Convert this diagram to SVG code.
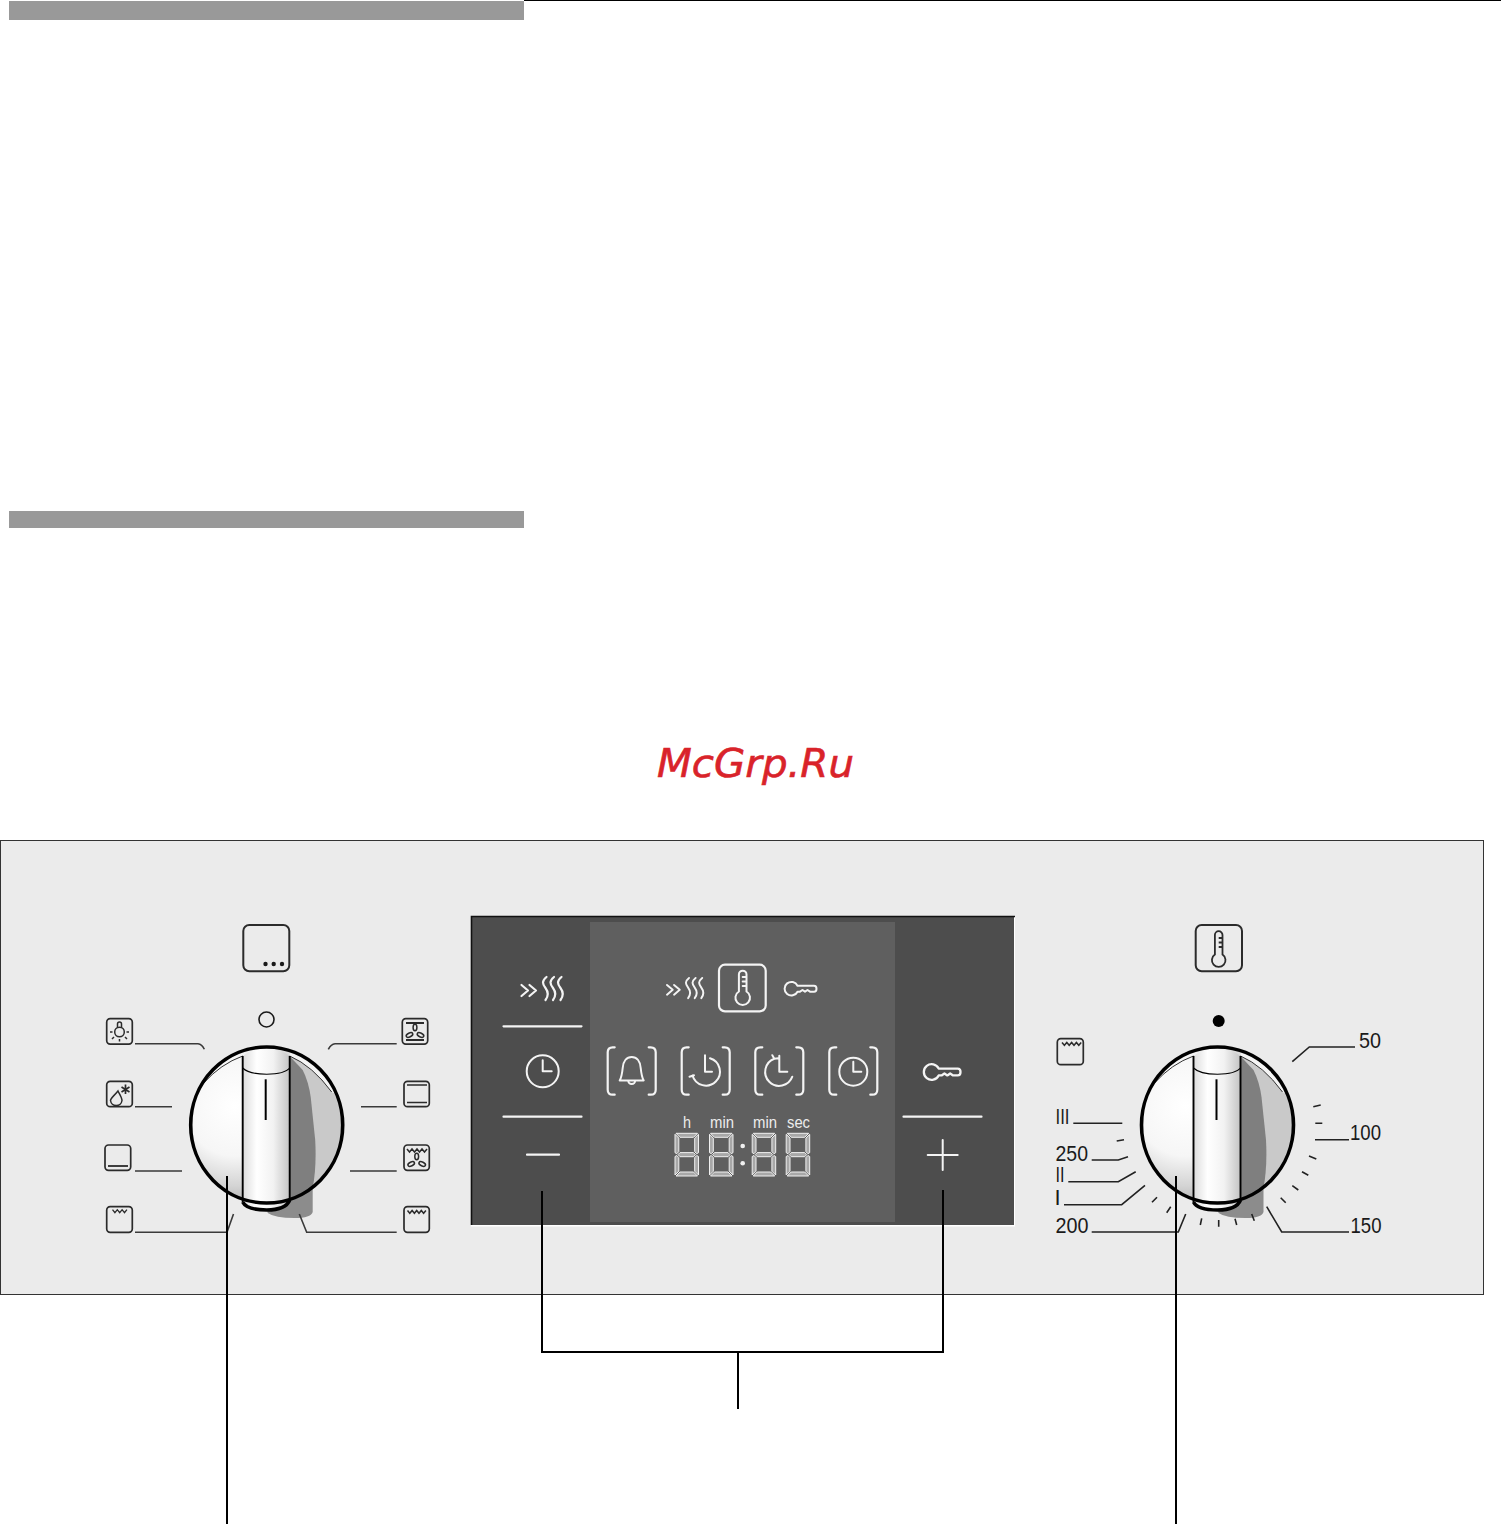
<svg xmlns="http://www.w3.org/2000/svg" width="1501" height="1525" viewBox="0 0 1501 1525">
<style>
.box{fill:#ebebeb;stroke:#2b2b2b;stroke-width:1.7}
.th{fill:none;stroke:#2b2b2b;stroke-width:1.5}
.w{fill:none;stroke:#f4f4f4;stroke-width:2.200;stroke-linecap:round;stroke-linejoin:round}
.wt{fill:none;stroke:#f4f4f4;stroke-width:2;stroke-linecap:round;stroke-linejoin:round}
.lead{fill:none;stroke:#3a3a3a;stroke-width:1.6}
.tick{fill:none;stroke:#222;stroke-width:1.6}
.call{fill:none;stroke:#000;stroke-width:2}
.num{font-family:"Liberation Sans",Arial,sans-serif;font-size:22px;fill:#1a1a1a}
.unit{font-family:"Liberation Sans",Arial,sans-serif;font-size:16px;fill:#ececec}
.seg{fill:#a8a8a8;stroke:#f0f0f0;stroke-width:1;stroke-linejoin:miter}
</style>
<defs>
<radialGradient id="face" gradientUnits="userSpaceOnUse" cx="-32" cy="-22" r="100">
<stop offset="0" stop-color="#ffffff"/><stop offset=".5" stop-color="#f6f6f6"/><stop offset=".8" stop-color="#d4d4d4"/><stop offset="1" stop-color="#b0b0b0"/>
</radialGradient>
<linearGradient id="grip" x1="0" x2="1" y1="0" y2="0">
<stop offset="0" stop-color="#dcdcdc"/><stop offset=".3" stop-color="#ffffff"/><stop offset=".65" stop-color="#f2f2f2"/><stop offset="1" stop-color="#c4c4c4"/>
</linearGradient>
<clipPath id="rim"><ellipse cx="0" cy="-3" rx="76" ry="78"/></clipPath>
<symbol id="knob" overflow="visible">
<path d="M0 78 L46 55 V84 Q44 90 28 90 Q8 90 1 85 Z" fill="#8c8c8c"/>
<ellipse cx="0" cy="-3" rx="76" ry="78" fill="url(#face)"/>
<g clip-path="url(#rim)">
<path d="M23 -85 H80 V85 H23 Z" fill="#f4f4f4"/>
<path d="M23 -72 Q46 -62 65 -36 L80 -28 V85 H23 Z" fill="#c9c9c9"/>
<path d="M23 -71.7 L36 -58 Q42 -46 44 -31 L48.500 12 Q50 38 46 60 L40 85 H23 Z" fill="#7f7f7f"/>
</g>
<path d="M-24 -72 Q-46 -64 -63 -45" fill="none" stroke="#333" stroke-width="1"/>
<path d="M23 -72 Q46 -62 65 -36" fill="none" stroke="#333" stroke-width="1"/>
<path d="M-24 -72 V74 Q-20 82 0 82 Q19 82 23 72 V-72 Q0 -90 -24 -72 Z" fill="url(#grip)"/>
<ellipse cx="0" cy="-3" rx="76" ry="78" fill="none" stroke="#000" stroke-width="3.600"/>
<path d="M-24 -72 V74 M23 72 V-72" fill="none" stroke="#000" stroke-width="1.900"/>
<path d="M-24 74 Q-20 82 0 82 Q19 82 23 72" fill="none" stroke="#000" stroke-width="3.600"/>
<path d="M-24 -60 Q-18 -54 0 -53.700 Q18 -54 23 -60" fill="none" stroke="#000" stroke-width="1.100"/>
<path d="M-1 -48.700 V-8" fill="none" stroke="#000" stroke-width="2"/>
</symbol>
<symbol id="wave" overflow="visible"><path d="M-7 -2 l2.400 3 2.400 -3 2.400 3 2.400 -3 2.400 3 2.400 -3" fill="none" stroke="#2b2b2b" stroke-width="1.300"/></symbol>
<symbol id="fan" overflow="visible">
<ellipse cx="0" cy="-4" rx="1.900" ry="3.200" class="th"/>
<ellipse cx="-5.500" cy="3.500" rx="3.500" ry="1.900" transform="rotate(-25 -5.500 3.500)" class="th"/>
<ellipse cx="5.500" cy="3.500" rx="3.500" ry="1.900" transform="rotate(25 5.500 3.500)" class="th"/>
</symbol>
<symbol id="brk" overflow="visible"><path d="M-17 -23.700 H-19 Q-24 -23.700 -24 -18.700 V18.700 Q-24 23.700 -19 23.700 H-17 M17 -23.700 H19 Q24 -23.700 24 -18.700 V18.700 Q24 23.700 19 23.700 H17" class="w"/></symbol>
<symbol id="heat" overflow="visible"><path d="M0 0 l6.500 5.500 -6.500 5.500 M8 0 l6.500 5.500 -6.500 5.500" class="w"/><path d="M25 -8 C20 -4 21 -1 24 3 C27 7 27 11 24 15 M32.500 -8 C27.500 -4 28.500 -1 31.500 3 C34.500 7 34.500 11 31.500 15 M40 -8 C35 -4 36 -1 39 3 C42 7 42 11 39 15" class="w"/></symbol>
<symbol id="key" overflow="visible"><path d="M4.500 -3 A6.800 6.800 0 1 0 4.500 3 H7 L9.500 1.300 L12 3 L14.500 1.300 L17 3 H21 Q23.500 3 23.500 0 Q23.500 -3 21 -3 Z" class="wt"/></symbol>
<symbol id="digit" overflow="visible">
<path class="seg" d="M1 0 H22.500 L18.500 4 H5 Z"/>
<path class="seg" d="M5 19.300 H18.500 L20.500 21.300 L18.500 23.400 H5 L3 21.300 Z"/>
<path class="seg" d="M1 42.700 H22.500 L18.500 38.700 H5 Z"/>
<path class="seg" d="M0 1 L3.800 4.800 V18.300 L1.800 20.400 L0 19.400 Z"/>
<path class="seg" d="M23.500 1 L19.700 4.800 V18.300 L21.700 20.400 L23.500 19.400 Z"/>
<path class="seg" d="M0 23.200 L1.800 22.200 L3.800 24.300 V37.900 L0 41.700 Z"/>
<path class="seg" d="M23.500 23.200 L21.700 22.200 L19.700 24.300 V37.900 L23.500 41.700 Z"/>
</symbol>
</defs>

<rect width="1501" height="1525" fill="#fff"/>
<g id="header-bars">
<path d="M524 0.500 H1501" stroke="#000" stroke-width="1" fill="none"/>
<rect x="9" y="1" width="515" height="19" fill="#999"/>
<rect x="9" y="511" width="515" height="17" fill="#999"/>
</g>
<g id="watermark"><text x="657" y="777" font-family="'DejaVu Sans',sans-serif" font-style="italic" font-size="39" fill="#d9232a" stroke="#d9232a" stroke-width=".6" textLength="197" lengthAdjust="spacingAndGlyphs">McGrp.Ru</text></g>

<g id="panel"><rect x="0.500" y="840.500" width="1483" height="454" fill="#ebebeb" stroke="#333" stroke-width="1"/></g>

<g id="display">
<rect x="471" y="916" width="544" height="310.500" fill="#fff"/>
<rect x="471" y="916" width="543" height="309" fill="#4d4d4d"/>
<rect x="590" y="922" width="305" height="300" fill="#5f5f5f"/>
<path d="M471.500 1225 V916.500 H1015" fill="none" stroke="#111" stroke-width="1.600"/>
<use href="#heat" x="521.500" y="985"/>
<path d="M503.500 1026.300 H581.500 M503.500 1116.700 H581.500 M527 1154.700 H559 M903.500 1116.700 H981.500" class="w"/>
<g transform="translate(542.700 1071.300)"><circle r="16" class="wt"/><path d="M0 -11 V0 H9" class="wt"/></g>
<g transform="translate(667 985) scale(.88)"><use href="#heat"/></g>
<rect x="719" y="964.700" width="46.700" height="46.700" rx="6" class="w"/>
<g transform="translate(742.700 990)"><path d="M-3.800 1.500 V-15.500 A3.800 3.800 0 0 1 3.800 -15.500 V1.500 A7.300 7.300 0 1 1 -3.800 1.500 Z M0 -13 H3.800 M0 -8.500 H3.800 M0 -4 H3.800" class="wt"/></g>
<use href="#key" x="793" y="988.700"/>
<g transform="translate(933.500 1072) scale(1.150)"><use href="#key"/></g>
<path d="M942.700 1140 V1170 M927.700 1155 H957.700" class="wt"/>
<use href="#brk" x="631.700" y="1071"/><use href="#brk" x="705.700" y="1071"/><use href="#brk" x="779.300" y="1071"/><use href="#brk" x="853.300" y="1071"/>
<g transform="translate(631.700 1071)"><path d="M-12 9.500 C-10 6 -9.500 2 -9 -3 C-8.500 -10 -5 -14 0 -14 C5 -14 8.500 -10 9 -3 C9.500 2 10 6 12 9.500 Z M-3.500 9.500 A3.500 3.500 0 0 0 3.500 9.500" class="wt"/></g>
<g transform="translate(706 1071.700)"><path d="M4 -13.500 A14 14 0 1 1 -13.500 3.800 M-1 -16.500 V0 H6 M-16.500 5 L-12 3.500" class="wt"/></g>
<g transform="translate(779.300 1071.700)"><path d="M-5 -13 A14 14 0 1 0 13 5 M0 -16 V0 H8 M-7 -16.500 L-5 -13 L-1 -13.500" class="wt"/></g>
<g transform="translate(853.300 1071.700)"><circle r="14" class="wt"/><path d="M0 -10 V0 H8" class="wt"/></g>
<text class="unit" x="683" y="1128" textLength="8" lengthAdjust="spacingAndGlyphs">h</text>
<text class="unit" x="710" y="1128" textLength="24" lengthAdjust="spacingAndGlyphs">min</text>
<text class="unit" x="753" y="1128" textLength="24" lengthAdjust="spacingAndGlyphs">min</text>
<text class="unit" x="787" y="1128" textLength="23" lengthAdjust="spacingAndGlyphs">sec</text>
<use href="#digit" x="675" y="1133.300"/><use href="#digit" x="709.500" y="1133.300"/><use href="#digit" x="752.200" y="1133.300"/><use href="#digit" x="786.200" y="1133.300"/>
<circle cx="742.700" cy="1146" r="2.300" fill="#f0f0f0"/><circle cx="742.700" cy="1163.300" r="2.300" fill="#f0f0f0"/>
</g>

<g id="mode-knob"><use href="#knob" x="266.700" y="1128"/></g>
<g id="temp-knob"><use href="#knob" x="1217.500" y="1128"/></g>

<g id="mode-icons">
<rect x="243.300" y="925" width="46" height="46.300" rx="6" class="box" style="stroke-width:2"/>
<circle cx="265.500" cy="964" r="2.200" fill="#1a1a1a"/><circle cx="273.700" cy="964" r="2.200" fill="#1a1a1a"/><circle cx="282" cy="964" r="2.200" fill="#1a1a1a"/>
<circle cx="266.500" cy="1019.500" r="7.500" fill="none" stroke="#1a1a1a" stroke-width="1.600"/>
<g id="ic-lamp"><rect x="106.700" y="1018.700" width="25.600" height="25.400" rx="3.500" class="box"/><circle cx="119.500" cy="1032" r="4.800" class="th"/><path d="M117.500 1028 V1024 A2 2 0 0 1 121.500 1024 V1028 M110 1032 H112.500 M126.500 1032 H129 M112 1039 L114 1037 M127 1039 L125 1037 M119.500 1039 V1041.500" class="th"/></g>
<g id="ic-defrost"><rect x="106.700" y="1081.300" width="25.600" height="25.400" rx="3.500" class="box"/><path d="M118 1091 C114 1096 110.500 1098 110.500 1100.500 A5.800 5.800 0 0 0 122 1100.500 C122 1097.500 119.500 1094 118 1091 Z" class="th"/><path d="M125.500 1084.500 V1094 M121.500 1087 L129.500 1092 M129.500 1087 L121.500 1092" class="th" style="stroke-width:1.700"/></g>
<g id="ic-bottom"><rect x="105" y="1145" width="25.700" height="25.300" rx="3.500" class="box"/><path d="M108 1166 H128" class="th" style="stroke-width:1.800"/></g>
<g id="ic-low"><rect x="106.700" y="1206.700" width="25.600" height="25.600" rx="3.500" class="box"/><use href="#wave" x="119.500" y="1211.700"/></g>
<g id="ic-fan-rings"><rect x="402.300" y="1018.700" width="25.400" height="25.400" rx="3.500" class="box"/><path d="M406 1023 H424 M406 1040 H424" class="th" style="stroke-width:1.800"/><use href="#fan" x="415" y="1031.500"/></g>
<g id="ic-topbottom"><rect x="404" y="1081.300" width="25.300" height="25.400" rx="3.500" class="box"/><path d="M407 1085 H427 M407 1102.500 H427" class="th" style="stroke-width:1.600"/></g>
<g id="ic-fan-grill"><rect x="404" y="1145" width="25.300" height="25.300" rx="3.500" class="box"/><path d="M407 1149 l2.500 3 2.500 -3 2.500 3 2.500 -3 2.500 3 2.500 -3 2.500 3 2.500 -3" class="th"/><use href="#fan" x="416.700" y="1160.500"/></g>
<g id="ic-top"><rect x="404" y="1206.700" width="25.300" height="25.600" rx="3.500" class="box"/><path d="M407.500 1210.500 l2.300 2.800 2.300 -2.800 2.300 2.800 2.300 -2.800 2.300 2.800 2.300 -2.800 2.300 2.800 2.300 -2.800" class="th"/></g>
</g>

<g id="temp-icons">
<rect x="1195.700" y="925" width="46.300" height="46.300" rx="6" class="box" style="stroke-width:2"/>
<g transform="translate(1218.700 952)"><path d="M-3.800 2.500 V-17 A3.800 3.800 0 0 1 3.800 -17 V2.500 A6.800 6.800 0 1 1 -3.800 2.500 Z M0 -14 H3.800 M0 -9.500 H3.800 M0 -5 H3.800" class="th" style="stroke-width:1.800"/></g>
<circle cx="1218.700" cy="1021" r="6" fill="#000"/>
<g id="ic-oven"><rect x="1057.300" y="1038.700" width="26" height="26" rx="3.500" class="box"/><path d="M1062 1042.500 l2.400 2.800 2.400 -2.800 2.400 2.800 2.400 -2.800 2.400 2.800 2.400 -2.800 2.400 2.800 2.400 -2.800" class="th"/></g>
<text class="num" x="1359" y="1048" textLength="22" lengthAdjust="spacingAndGlyphs">50</text>
<text class="num" x="1350" y="1140" textLength="31" lengthAdjust="spacingAndGlyphs">100</text>
<text class="num" x="1350.500" y="1233" textLength="31" lengthAdjust="spacingAndGlyphs">150</text>
<text class="num" x="1055.500" y="1233" textLength="33" lengthAdjust="spacingAndGlyphs">200</text>
<text class="num" x="1055.500" y="1161" textLength="32.500" lengthAdjust="spacingAndGlyphs">250</text>
<text class="num" x="1055.500" y="1124" textLength="14" lengthAdjust="spacingAndGlyphs">III</text>
<text class="num" x="1055.500" y="1182" textLength="9" lengthAdjust="spacingAndGlyphs">II</text>
<text class="num" x="1054.500" y="1205">I</text>
</g>

<g id="connectors">
<path class="lead" d="M135 1043.700 H198 Q202 1044 204.300 1049.300 M135 1106.800 H172 M135 1171 H182 M135 1232.300 H227 L233.500 1214 M396.700 1043.700 H335 Q331 1044 328.300 1049.300 M396.700 1106.800 H361 M396.700 1171 H350 M396.700 1232.300 H306.700 L299.300 1214"/>
<path class="tick" d="M1355 1047 H1309.300 L1292.300 1061.700 M1349 1139.700 H1315 M1349 1232 H1281.700 L1266.700 1206.700 M1073.300 1123.300 H1122.300 M1091.700 1160 H1118.300 L1128 1156.700 M1068.300 1181.700 H1118.300 L1135.700 1171.700 M1064 1204.700 H1121.700 L1145 1185.300 M1091.700 1232 H1178.300 L1185.700 1214"/>
<path class="tick" d="M1313.300 1106.700 L1320.700 1105 M1315.300 1123.300 H1322.300 M1309 1156 L1316.300 1159 M1302 1171.700 L1308.300 1175.300 M1292.300 1185.700 L1298.300 1190 M1280.700 1197.700 L1285.700 1202.700 M1251.700 1214 L1254.300 1220.700 M1235 1218.700 L1236.700 1225 M1218.700 1220 V1226.700 M1201.700 1218.300 L1200.300 1225 M1170.700 1206.700 L1166.700 1212.700 M1157 1197.300 L1152 1202.300 M1116.700 1141 L1124 1139.700"/>
<path class="call" d="M227 1176 V1524 M1176 1176 V1524 M542 1191 V1352 H943 V1190 M738 1352 V1409"/>
</g>
</svg>
